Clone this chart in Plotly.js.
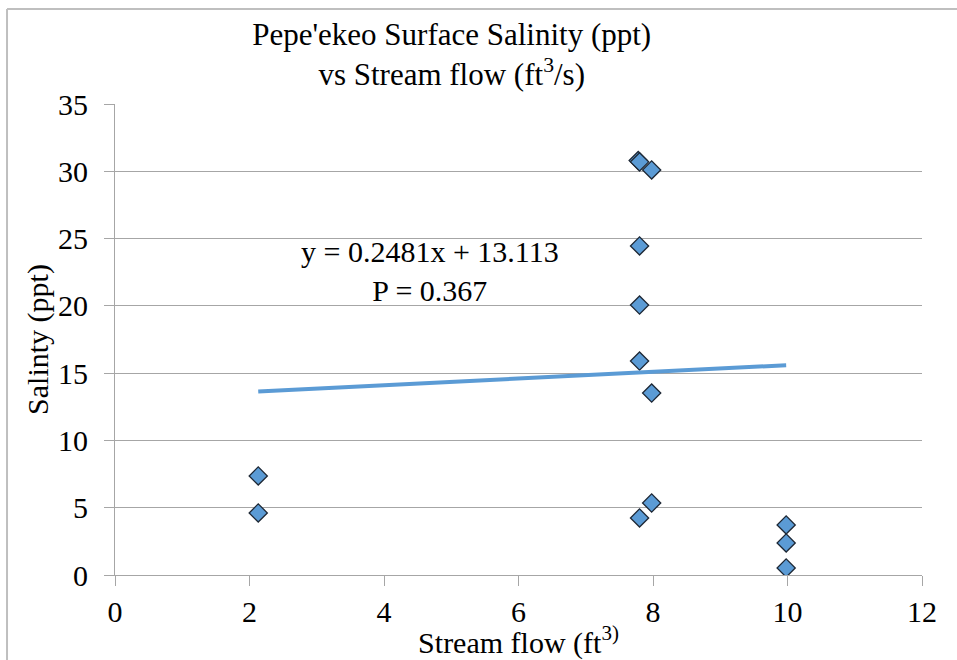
<!DOCTYPE html>
<html>
<head>
<meta charset="utf-8">
<script src="https://cdn.plot.ly/plotly-3.0.1.min.js"></script>
<style>
  html, body { margin: 0; padding: 0; background: #ffffff; }
  #chart { width: 957px; height: 660px; }
  #chart svg text { font-family: 'Liberation Serif', 'Times New Roman', 'DejaVu Serif', serif !important; }
</style>
</head>
<body>
<div id="chart"></div>
<script>
// Stream flow (ft3/s) readings
const streamFlow = [2.13, 2.13, 7.78, 7.80, 7.98, 7.80, 7.80, 7.80, 7.98, 7.98, 7.80, 9.98, 9.98, 9.98];
// Surface salinity (ppt) readings
const salinity = [7.36, 4.61, 30.8, 30.7, 30.1, 24.45, 20.06, 15.9, 13.52, 5.35, 4.24, 3.72, 2.38, 0.52];

// Linear trendline reported on the chart
const slope = 0.2481;
const intercept = 13.113;
const pValue = 0.367;

const xTicks = [0, 2, 4, 6, 8, 10, 12];
const yTicks = [0, 5, 10, 15, 20, 25, 30, 35];

const fontFamily = 'Liberation Serif';

const xMin = Math.min(...streamFlow);
const xMax = Math.max(...streamFlow);
const trendX = [xMin, xMax];
const trendY = trendX.map(x => slope * x + intercept);

const traces = [
  {
    type: 'scatter',
    mode: 'markers',
    x: streamFlow,
    y: salinity,
    marker: {
      symbol: 'diamond',
      size: 14,
      color: '#5B9BD5',
      line: { color: '#1E2835', width: 1.3 }
    },
    hoverinfo: 'x+y',
    showlegend: false
  },
  {
    type: 'scatter',
    mode: 'lines',
    x: trendX,
    y: trendY,
    line: { color: '#5B9BD5', width: 4 },
    hoverinfo: 'skip',
    showlegend: false
  }
];

const layout = {
  width: 957,
  height: 660,
  paper_bgcolor: '#ffffff',
  plot_bgcolor: '#ffffff',
  margin: { l: 115, r: 35, t: 104, b: 85 },
  font: { family: fontFamily, color: '#000000', size: 30 },
  title: {
    text: "Pepe'ekeo Surface Salinity (ppt)<br>vs Stream flow (ft<sup>3</sup>/s)",
    font: { family: fontFamily, size: 31, color: '#000000' },
    xref: 'container', x: 0.472, xanchor: 'center',
    yref: 'container', y: 0.932, yanchor: 'middle'
  },
  xaxis: {
    range: [0, 12],
    tickvals: xTicks,
    ticktext: xTicks.map(String),
    showgrid: false,
    zeroline: false,
    showline: true,
    linecolor: '#A6A6A6',
    linewidth: 1,
    ticks: 'outside',
    ticklen: 10,
    tickcolor: '#A6A6A6',
    tickfont: { family: fontFamily, size: 30, color: '#000000' },
    title: {
      text: 'Stream flow (ft<sup>3)</sup>',
      font: { family: fontFamily, size: 30, color: '#000000' },
      standoff: 0
    },
    automargin: false
  },
  yaxis: {
    range: [0, 35],
    tickvals: yTicks,
    ticktext: yTicks.map(String),
    showgrid: true,
    gridcolor: '#A6A6A6',
    gridwidth: 1,
    zeroline: false,
    showline: true,
    linecolor: '#A6A6A6',
    linewidth: 1,
    ticks: 'outside',
    ticklen: 10,
    tickcolor: '#A6A6A6',
    ticklabelstandoff: 10,
    tickfont: { family: fontFamily, size: 30, color: '#000000' },
    title: {
      text: 'Salinty (ppt)',
      font: { family: fontFamily, size: 30, color: '#000000' },
      standoff: 0
    },
    automargin: false
  },
  annotations: [
    {
      xref: 'x', yref: 'y',
      x: 4.68, y: 22.6,
      text: 'y = ' + slope + 'x + ' + intercept + '<br>P = ' + pValue,
      showarrow: false,
      align: 'center',
      font: { family: fontFamily, size: 30, color: '#000000' }
    }
  ],
  shapes: [
    {
      type: 'line', xref: 'paper', yref: 'paper',
      x0: -0.1338, x1: -0.1338, y0: 1.2017, y1: -0.2,
      line: { color: '#BFBFBF', width: 2 }
    },
    {
      type: 'line', xref: 'paper', yref: 'paper',
      x0: -0.1338, x1: 1.06, y0: 1.2017, y1: 1.2017,
      line: { color: '#BFBFBF', width: 2 }
    }
  ]
};

Plotly.newPlot('chart', traces, layout, { displayModeBar: false, staticPlot: true });
</script>
</body>
</html>
